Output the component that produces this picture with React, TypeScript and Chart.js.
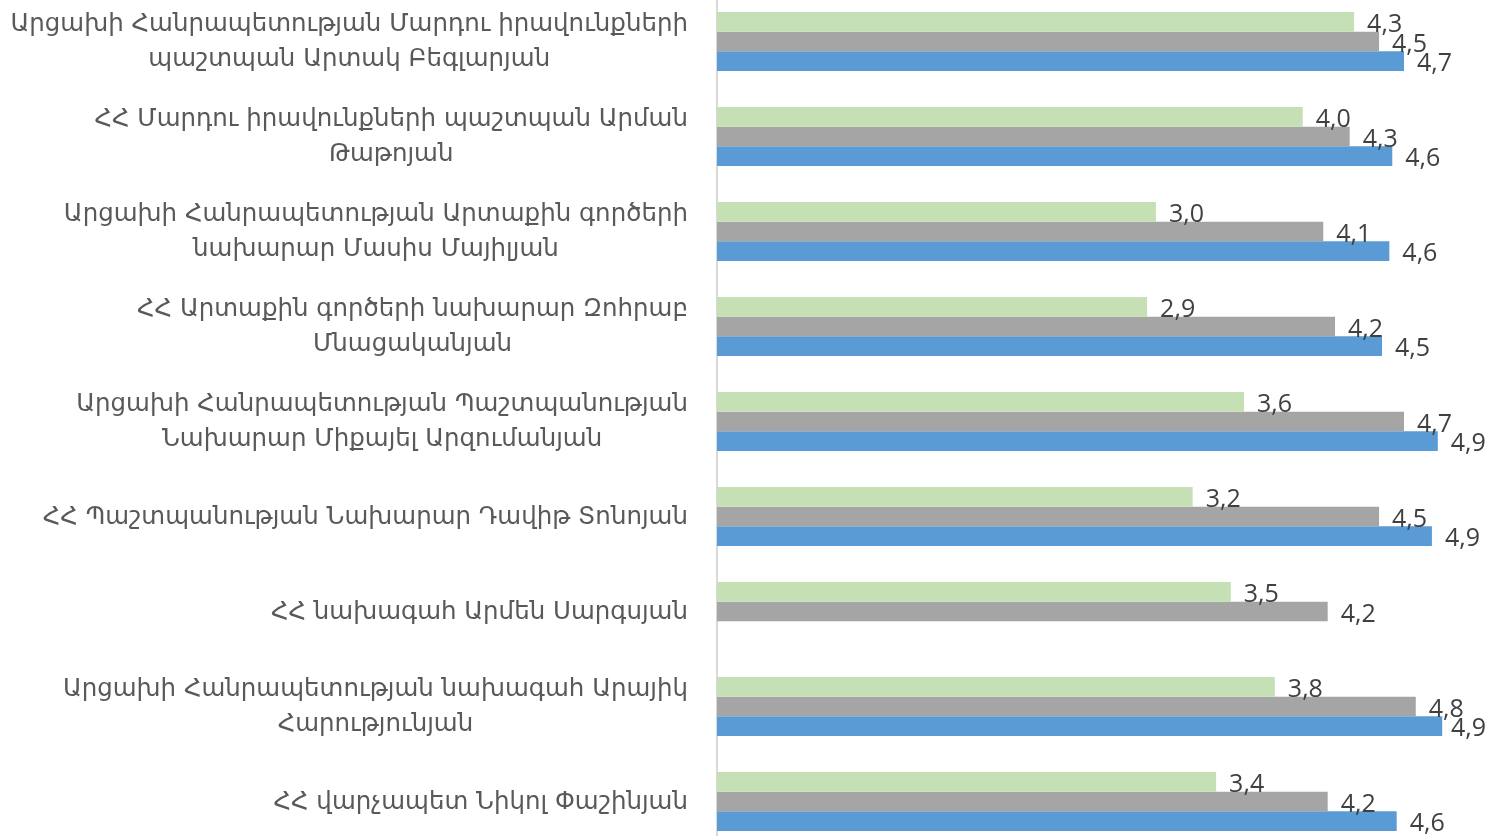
import React, { useEffect, useRef } from 'react';
import { Chart, registerables } from 'chart.js';

Chart.register(...registerables);

const categories: string[][] = [
  ['Արցախի Հանրապետության Մարդու իրավունքների', 'պաշտպան Արտակ Բեգլարյան'],
  ['ՀՀ Մարդու իրավունքների պաշտպան Արման', 'Թաթոյան'],
  ['Արցախի Հանրապետության Արտաքին գործերի', 'նախարար Մասիս Մայիլյան'],
  ['ՀՀ Արտաքին գործերի նախարար Զոհրաբ', 'Մնացականյան'],
  ['Արցախի Հանրապետության Պաշտպանության', 'Նախարար Միքայել Արզումանյան'],
  ['ՀՀ Պաշտպանության Նախարար Դավիթ Տոնոյան'],
  ['ՀՀ նախագահ Արմեն Սարգսյան'],
  ['Արցախի Հանրապետության նախագահ Արայիկ', 'Հարությունյան'],
  ['ՀՀ վարչապետ Նիկոլ Փաշինյան'],
];

const seriesGreen: (number | null)[] = [4.34, 3.99, 2.99, 2.93, 3.59, 3.24, 3.5, 3.8, 3.4];
const seriesGray: (number | null)[] = [4.51, 4.31, 4.13, 4.21, 4.68, 4.51, 4.16, 4.76, 4.16];
const seriesBlue: (number | null)[] = [4.68, 4.6, 4.58, 4.53, 4.91, 4.87, null, 4.94, 4.63];

const seriesNames = ['Շարք 1', 'Շարք 2', 'Շարք 3'];
const seriesColors = ['#C5E0B4', '#A5A5A5', '#5B9BD5'];

const CAT_FONT = '24.5px "DejaVu Sans", "Noto Sans", sans-serif';
const VALUE_FONT = '25px "Open Sans", "Noto Sans", sans-serif';

const categoryLabelPlugin = {
  id: 'categoryLabels',
  afterDraw(chart: any) {
    const ctx = chart.ctx;
    const yScale = chart.scales.y;
    const rightX = chart.chartArea.left - 29;
    ctx.save();
    ctx.font = CAT_FONT;
    ctx.fillStyle = '#595959';
    ctx.textBaseline = 'middle';
    ctx.textAlign = 'center';
    const lh = 35;
    categories.forEach((lines, i) => {
      const cy = yScale.getPixelForTick(i) + 1;
      const w = Math.max(...lines.map((l) => ctx.measureText(l).width));
      const cx = rightX - w / 2;
      lines.forEach((l, j) => {
        ctx.fillText(l, cx, cy + (j - (lines.length - 1) / 2) * lh);
      });
    });
    ctx.restore();
  },
};

const valueLabelPlugin = {
  id: 'valueLabels',
  afterDatasetsDraw(chart: any) {
    const ctx = chart.ctx;
    ctx.save();
    ctx.font = VALUE_FONT;
    ctx.fillStyle = '#404040';
    ctx.textBaseline = 'alphabetic';
    ctx.textAlign = 'left';
    chart.data.datasets.forEach((ds: any, di: number) => {
      const meta = chart.getDatasetMeta(di);
      meta.data.forEach((el: any, i: number) => {
        const v = ds.data[i];
        if (v === null || v === undefined) return;
        const text = v.toFixed(1).replace('.', ',');
        const w = ctx.measureText(text).width;
        const x = Math.min(el.x + 13, chart.width - w - 2);
        ctx.fillText(text, x, el.y + 10);
      });
    });
    ctx.restore();
  },
};

export default function App() {
  const canvasRef = useRef<HTMLCanvasElement | null>(null);

  useEffect(() => {
    if (!canvasRef.current) return;
    const chart = new Chart(canvasRef.current, {
      type: 'bar',
      data: {
        labels: categories.map((c) => c.join(' ')),
        datasets: [seriesGreen, seriesGray, seriesBlue].map((d, i) => ({
          label: seriesNames[i],
          data: d,
          backgroundColor: seriesColors[i],
          borderWidth: 0,
          categoryPercentage: 0.621,
          barPercentage: 1,
        })),
      },
      options: {
        indexAxis: 'y',
        responsive: false,
        animation: false,
        layout: { padding: { left: 0, right: 37, top: 0, bottom: 0 } },
        plugins: {
          legend: { display: false },
          tooltip: { enabled: false },
        },
        scales: {
          x: { display: false, min: 0, max: 5 },
          y: {
            display: true,
            ticks: { display: false },
            grid: { display: false, drawTicks: false },
            border: { display: true, color: '#d9d9d9', width: 2 },
            afterFit: (s: any) => {
              s.width = 717;
            },
          },
        },
      } as any,
      plugins: [categoryLabelPlugin, valueLabelPlugin],
    });
    return () => chart.destroy();
  }, []);

  return (
    <div
      style={{
        position: 'fixed',
        left: 0,
        top: 0,
        width: 1488,
        height: 836,
        overflow: 'hidden',
        background: '#ffffff',
      }}
    >
      <canvas
        ref={canvasRef}
        width={1488}
        height={855}
        style={{ position: 'absolute', left: 0, top: -6, width: 1488, height: 855 }}
      />
    </div>
  );
}
